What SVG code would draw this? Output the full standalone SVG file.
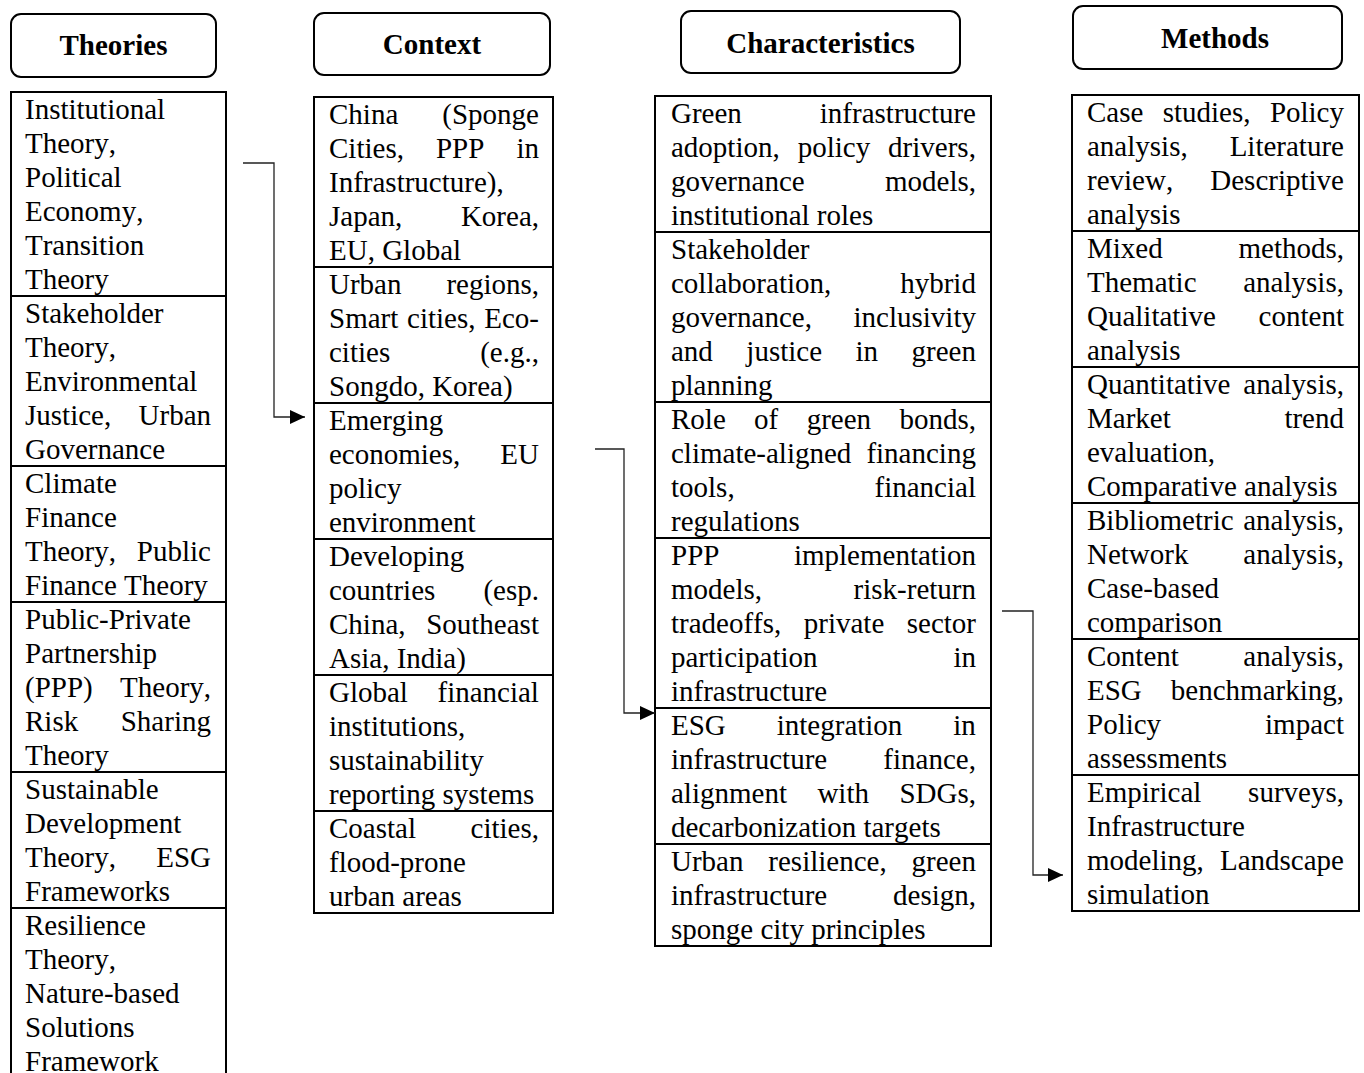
<svg xmlns="http://www.w3.org/2000/svg" width="1364" height="1073" viewBox="0 0 1364 1073">
  <style>
    .hdr { fill: #fff; stroke: #000; stroke-width: 2; }
    .ht { font-family: "Liberation Serif", "Times New Roman", serif; font-size: 29px; font-weight: bold; text-anchor: middle; fill: #000; }
    .tbl { fill: #fff; stroke: #000; stroke-width: 2; }
    .div { stroke: #000; stroke-width: 2; }
    .t { font-family: "Liberation Serif", "Times New Roman", serif; font-size: 29px; fill: #000; font-kerning: none; }
    .con { fill: none; stroke: #222; stroke-width: 1.3; }
  </style>
  <defs>
    <marker id="arrow" markerUnits="userSpaceOnUse" markerWidth="16" markerHeight="14" refX="15" refY="7" orient="auto">
      <path d="M0,0 L15,7 L0,14 Z" fill="#000"/>
    </marker>
  </defs>
  <rect width="1364" height="1073" fill="#fff"/>

  <!-- Column headers -->
  <g id="hdr-theories">
    <rect class="hdr" x="11" y="14" width="205" height="63" rx="10"/>
    <text class="ht" x="113.5" y="55">Theories</text>
  </g>
  <g id="hdr-context">
    <rect class="hdr" x="314" y="13" width="236" height="62" rx="10"/>
    <text class="ht" x="432" y="54">Context</text>
  </g>
  <g id="hdr-characteristics">
    <rect class="hdr" x="681" y="11" width="279" height="62" rx="10"/>
    <text class="ht" x="820.5" y="53">Characteristics</text>
  </g>
  <g id="hdr-methods">
    <rect class="hdr" x="1073" y="6" width="269" height="63" rx="10"/>
    <text class="ht" x="1215" y="48">Methods</text>
  </g>

  <!-- Theories column -->
  <g id="theories">
    <rect class="tbl" x="11" y="92" width="215" height="1000"/>
    <line class="div" x1="11" y1="296" x2="226" y2="296"/>
    <line class="div" x1="11" y1="466" x2="226" y2="466"/>
    <line class="div" x1="11" y1="602" x2="226" y2="602"/>
    <line class="div" x1="11" y1="772" x2="226" y2="772"/>
    <line class="div" x1="11" y1="908" x2="226" y2="908"/>
    <g id="th-1">
      <text class="t" x="25" y="119">Institutional</text>
      <text class="t" x="25" y="153">Theory,</text>
      <text class="t" x="25" y="187">Political</text>
      <text class="t" x="25" y="221">Economy,</text>
      <text class="t" x="25" y="255">Transition</text>
      <text class="t" x="25" y="289">Theory</text>
    </g>
    <g id="th-2">
      <text class="t" x="25" y="323">Stakeholder</text>
      <text class="t" x="25" y="357">Theory,</text>
      <text class="t" x="25" y="391">Environmental</text>
      <text class="t" x="25" y="425" style="word-spacing:20.1px">Justice, Urban</text>
      <text class="t" x="25" y="459">Governance</text>
    </g>
    <g id="th-3">
      <text class="t" x="25" y="493">Climate</text>
      <text class="t" x="25" y="527">Finance</text>
      <text class="t" x="25" y="561" style="word-spacing:13.6px">Theory, Public</text>
      <text class="t" x="25" y="595">Finance Theory</text>
    </g>
    <g id="th-4">
      <text class="t" x="25" y="629">Public-Private</text>
      <text class="t" x="25" y="663">Partnership</text>
      <text class="t" x="25" y="697" style="word-spacing:20.1px">(PPP) Theory,</text>
      <text class="t" x="25" y="731" style="word-spacing:35.3px">Risk Sharing</text>
      <text class="t" x="25" y="765">Theory</text>
    </g>
    <g id="th-5">
      <text class="t" x="25" y="799">Sustainable</text>
      <text class="t" x="25" y="833">Development</text>
      <text class="t" x="25" y="867" style="word-spacing:33px">Theory, ESG</text>
      <text class="t" x="25" y="901">Frameworks</text>
    </g>
    <g id="th-6">
      <text class="t" x="25" y="935">Resilience</text>
      <text class="t" x="25" y="969">Theory,</text>
      <text class="t" x="25" y="1003">Nature-based</text>
      <text class="t" x="25" y="1037">Solutions</text>
      <text class="t" x="25" y="1071">Framework</text>
    </g>
  </g>

  <!-- Context column -->
  <g id="context">
    <rect class="tbl" x="314" y="97" width="239" height="816"/>
    <line class="div" x1="314" y1="267" x2="553" y2="267"/>
    <line class="div" x1="314" y1="403" x2="553" y2="403"/>
    <line class="div" x1="314" y1="539" x2="553" y2="539"/>
    <line class="div" x1="314" y1="675" x2="553" y2="675"/>
    <line class="div" x1="314" y1="811" x2="553" y2="811"/>
    <g id="cx-1">
      <text class="t" x="329" y="124" style="word-spacing:36.8px">China (Sponge</text>
      <text class="t" x="329" y="158" style="word-spacing:24.8px">Cities, PPP in</text>
      <text class="t" x="329" y="192">Infrastructure),</text>
      <text class="t" x="329" y="226" style="word-spacing:51.4px">Japan, Korea,</text>
      <text class="t" x="329" y="260">EU, Global</text>
    </g>
    <g id="cx-2">
      <text class="t" x="329" y="294" style="word-spacing:37.7px">Urban regions,</text>
      <text class="t" x="329" y="328" style="word-spacing:1.5px">Smart cities, Eco-</text>
      <text class="t" x="329" y="362" style="word-spacing:82.7px">cities (e.g.,</text>
      <text class="t" x="329" y="396">Songdo, Korea)</text>
    </g>
    <g id="cx-3">
      <text class="t" x="329" y="430">Emerging</text>
      <text class="t" x="329" y="464" style="word-spacing:32.8px">economies, EU</text>
      <text class="t" x="329" y="498">policy</text>
      <text class="t" x="329" y="532">environment</text>
    </g>
    <g id="cx-4">
      <text class="t" x="329" y="566">Developing</text>
      <text class="t" x="329" y="600" style="word-spacing:40.9px">countries (esp.</text>
      <text class="t" x="329" y="634" style="word-spacing:13.4px">China, Southeast</text>
      <text class="t" x="329" y="668">Asia, India)</text>
    </g>
    <g id="cx-5">
      <text class="t" x="329" y="702" style="word-spacing:22.3px">Global financial</text>
      <text class="t" x="329" y="736">institutions,</text>
      <text class="t" x="329" y="770">sustainability</text>
      <text class="t" x="329" y="804">reporting systems</text>
    </g>
    <g id="cx-6">
      <text class="t" x="329" y="838" style="word-spacing:47.3px">Coastal cities,</text>
      <text class="t" x="329" y="872">flood-prone</text>
      <text class="t" x="329" y="906">urban areas</text>
    </g>
  </g>

  <!-- Characteristics column -->
  <g id="characteristics">
    <rect class="tbl" x="655" y="96" width="336" height="850"/>
    <line class="div" x1="655" y1="232" x2="991" y2="232"/>
    <line class="div" x1="655" y1="402" x2="991" y2="402"/>
    <line class="div" x1="655" y1="538" x2="991" y2="538"/>
    <line class="div" x1="655" y1="708" x2="991" y2="708"/>
    <line class="div" x1="655" y1="844" x2="991" y2="844"/>
    <g id="ch-1">
      <text class="t" x="671" y="123" style="word-spacing:70.7px">Green infrastructure</text>
      <text class="t" x="671" y="157" style="word-spacing:10.7px">adoption, policy drivers,</text>
      <text class="t" x="671" y="191" style="word-spacing:73.1px">governance models,</text>
      <text class="t" x="671" y="225">institutional roles</text>
    </g>
    <g id="ch-2">
      <text class="t" x="671" y="259">Stakeholder</text>
      <text class="t" x="671" y="293" style="word-spacing:61.7px">collaboration, hybrid</text>
      <text class="t" x="671" y="327" style="word-spacing:34.4px">governance, inclusivity</text>
      <text class="t" x="671" y="361" style="word-spacing:26.2px">and justice in green</text>
      <text class="t" x="671" y="395">planning</text>
    </g>
    <g id="ch-3">
      <text class="t" x="671" y="429" style="word-spacing:21.1px">Role of green bonds,</text>
      <text class="t" x="671" y="463" style="word-spacing:7.8px">climate-aligned financing</text>
      <text class="t" x="671" y="497" style="word-spacing:132.6px">tools, financial</text>
      <text class="t" x="671" y="531">regulations</text>
    </g>
    <g id="ch-4">
      <text class="t" x="671" y="565" style="word-spacing:67.3px">PPP implementation</text>
      <text class="t" x="671" y="599" style="word-spacing:84.3px">models, risk-return</text>
      <text class="t" x="671" y="633" style="word-spacing:15.2px">tradeoffs, private sector</text>
      <text class="t" x="671" y="667" style="word-spacing:128.6px">participation in</text>
      <text class="t" x="671" y="701">infrastructure</text>
    </g>
    <g id="ch-5">
      <text class="t" x="671" y="735" style="word-spacing:43.7px">ESG integration in</text>
      <text class="t" x="671" y="769" style="word-spacing:48.9px">infrastructure finance,</text>
      <text class="t" x="671" y="803" style="word-spacing:23.2px">alignment with SDGs,</text>
      <text class="t" x="671" y="837">decarbonization targets</text>
    </g>
    <g id="ch-6">
      <text class="t" x="671" y="871" style="word-spacing:17.6px">Urban resilience, green</text>
      <text class="t" x="671" y="905" style="word-spacing:58.6px">infrastructure design,</text>
      <text class="t" x="671" y="939">sponge city principles</text>
    </g>
  </g>

  <!-- Methods column -->
  <g id="methods">
    <rect class="tbl" x="1072" y="95" width="287" height="816"/>
    <line class="div" x1="1072" y1="231" x2="1359" y2="231"/>
    <line class="div" x1="1072" y1="367" x2="1359" y2="367"/>
    <line class="div" x1="1072" y1="503" x2="1359" y2="503"/>
    <line class="div" x1="1072" y1="639" x2="1359" y2="639"/>
    <line class="div" x1="1072" y1="775" x2="1359" y2="775"/>
    <g id="me-1">
      <text class="t" x="1087" y="122" style="word-spacing:12.1px">Case studies, Policy</text>
      <text class="t" x="1087" y="156" style="word-spacing:34.7px">analysis, Literature</text>
      <text class="t" x="1087" y="190" style="word-spacing:29.9px">review, Descriptive</text>
      <text class="t" x="1087" y="224">analysis</text>
    </g>
    <g id="me-2">
      <text class="t" x="1087" y="258" style="word-spacing:68.5px">Mixed methods,</text>
      <text class="t" x="1087" y="292" style="word-spacing:39.5px">Thematic analysis,</text>
      <text class="t" x="1087" y="326" style="word-spacing:35.5px">Qualitative content</text>
      <text class="t" x="1087" y="360">analysis</text>
    </g>
    <g id="me-3">
      <text class="t" x="1087" y="394" style="word-spacing:5.7px">Quantitative analysis,</text>
      <text class="t" x="1087" y="428" style="word-spacing:106.4px">Market trend</text>
      <text class="t" x="1087" y="462">evaluation,</text>
      <text class="t" x="1087" y="496">Comparative analysis</text>
    </g>
    <g id="me-4">
      <text class="t" x="1087" y="530" style="word-spacing:2.4px">Bibliometric analysis,</text>
      <text class="t" x="1087" y="564" style="word-spacing:47.6px">Network analysis,</text>
      <text class="t" x="1087" y="598">Case-based</text>
      <text class="t" x="1087" y="632">comparison</text>
    </g>
    <g id="me-5">
      <text class="t" x="1087" y="666" style="word-spacing:57.2px">Content analysis,</text>
      <text class="t" x="1087" y="700" style="word-spacing:21.8px">ESG benchmarking,</text>
      <text class="t" x="1087" y="734" style="word-spacing:96.7px">Policy impact</text>
      <text class="t" x="1087" y="768">assessments</text>
    </g>
    <g id="me-6">
      <text class="t" x="1087" y="802" style="word-spacing:39.5px">Empirical surveys,</text>
      <text class="t" x="1087" y="836">Infrastructure</text>
      <text class="t" x="1087" y="870" style="word-spacing:8.9px">modeling, Landscape</text>
      <text class="t" x="1087" y="904">simulation</text>
    </g>
  </g>

  <!-- Elbow connectors between columns -->
  <g id="connectors">
    <path class="con" d="M243,163 H274 V417 H305" marker-end="url(#arrow)"/>
    <path class="con" d="M595,449 H624 V713 H655" marker-end="url(#arrow)"/>
    <path class="con" d="M1002,611 H1033 V875 H1063" marker-end="url(#arrow)"/>
  </g>
</svg>
